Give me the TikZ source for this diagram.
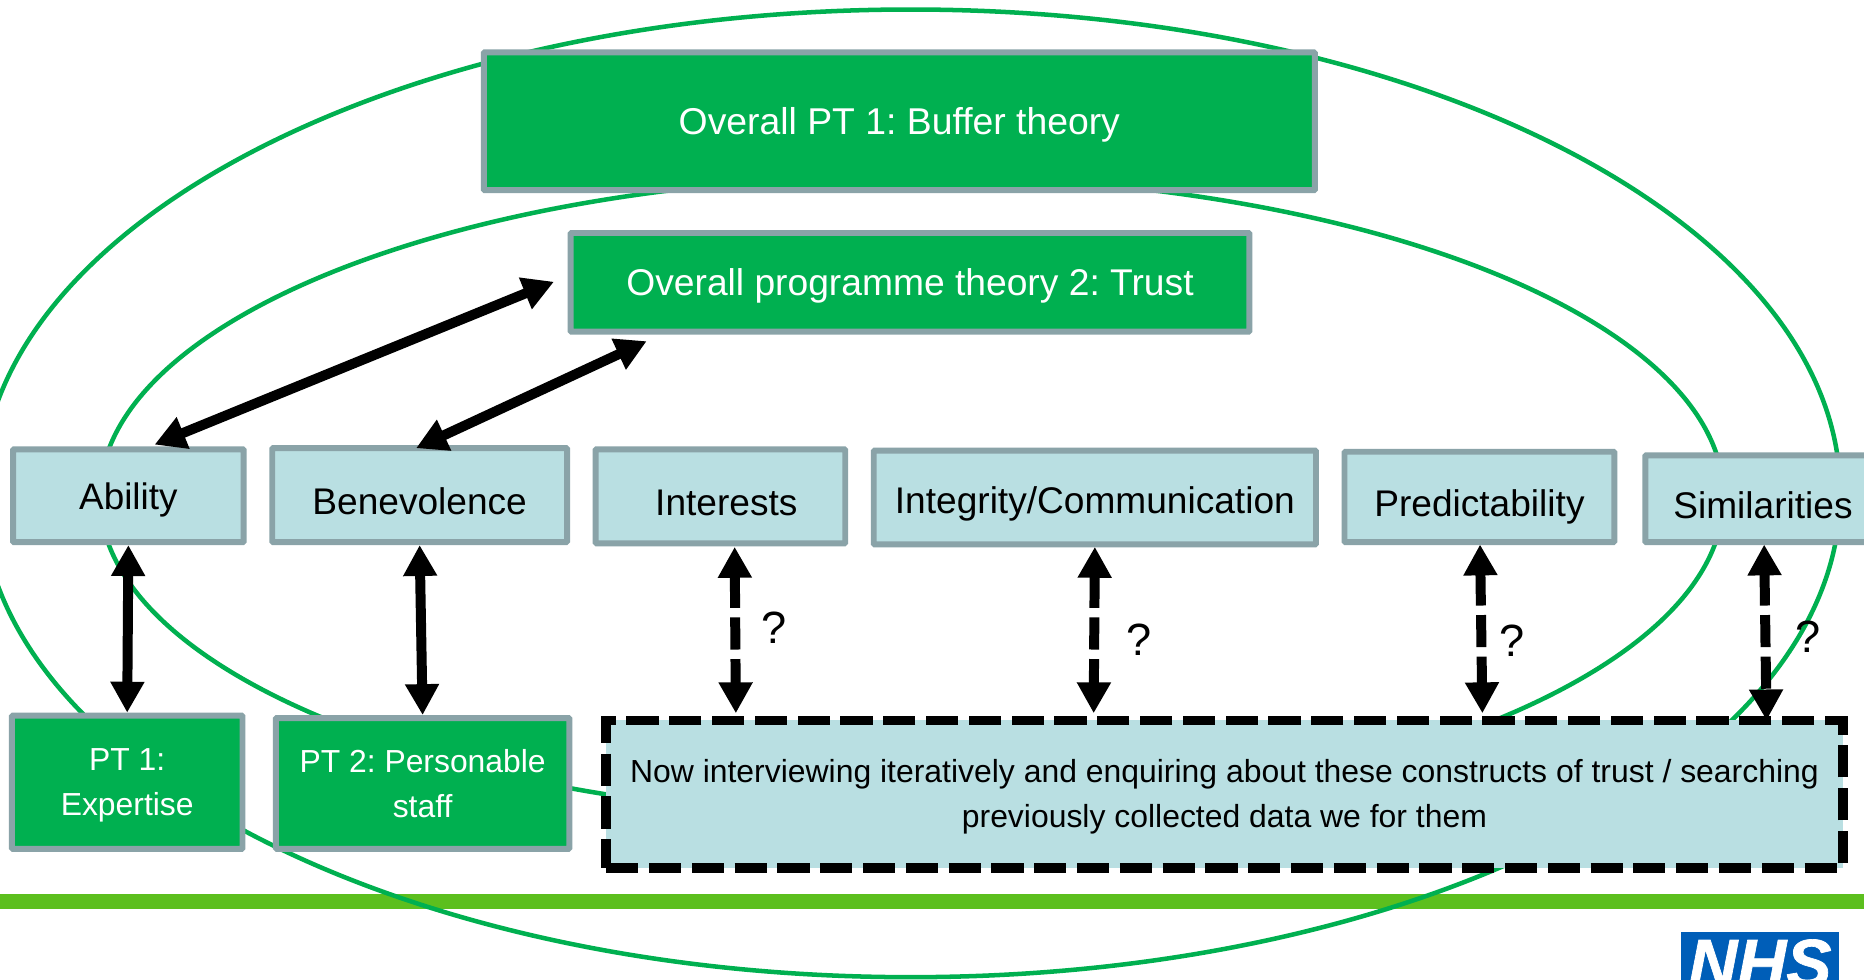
\documentclass[tikz,border=0pt]{standalone}
\usepackage{fontspec}
\setmainfont{Liberation Sans}
\newfontfamily\nhsfont[FakeBold=1]{Liberation Sans Bold Italic}
\usetikzlibrary{arrows.meta}
\newcommand{\fs}[1]{\fontsize{#1}{38}\selectfont\frenchspacing}
\definecolor{ngreen}{HTML}{00B050}
\definecolor{nblue}{HTML}{B9DFE2}
\definecolor{nedge}{HTML}{8AA3A8}
\definecolor{nbar}{HTML}{5CBF1E}
\definecolor{nhsblue}{HTML}{005EB8}
\tikzset{
  x=1pt,y=-1pt,
  boxbase/.style={draw=nedge,line width=5pt,inner sep=0pt,align=center,rounded corners=0.8pt},
  gbox/.style={boxbase,fill=ngreen,text=white,font=\fs{26.8}},
  bbox/.style={boxbase,fill=nblue,text=black,font=\fs{31.2},text depth=0pt},
  dashbox/.style={draw=black,fill=nblue,line width=8.2pt,dash pattern=on 27pt off 9pt,inner sep=0pt,align=center,text=black,font=\fs{26.85}},
  ell/.style={draw=ngreen,line width=3.8pt},
  dbl/.style={{Triangle[length=26pt,width=27pt]}-{Triangle[length=26pt,width=27pt]},line width=8.4pt,black},
  dbld/.style={dbl,dash pattern=on 27pt off 8pt},
  qm/.style={text=black,font=\fs{38},inner sep=0pt},
}
\begin{document}
\begin{tikzpicture}
\useasboundingbox (0,0) rectangle (1568,824.3);
\fill[white] (0,0) rectangle (1568,824.3);
\clip (0,0) rectangle (1568,824.3);
\fill[nbar] (0,752) rectangle (1568,765);
\draw[ell] (766,415) ellipse [x radius=782,y radius=407];
\draw[ell] (767,418) ellipse [x radius=683,y radius=270];
\node[gbox,font=\fs{31.4},text depth=0pt,text height=22.4pt,minimum width=699pt,minimum height=116pt] (top) at (756.5,102) {Overall PT 1: Buffer theory};
\node[gbox,font=\fs{31.3},text depth=0pt,text height=22.4pt,minimum width=571pt,minimum height=83pt] (trust) at (765.5,237.5) {Overall programme theory 2: Trust};
\node[bbox,font=\fs{31},text height=22.4pt,minimum width=194pt,minimum height=78pt] (ability) at (108,417) {Ability};
\node[bbox,text height=33pt,minimum width=248pt,minimum height=79pt] (benev) at (353,416.5) {Benevolence};
\node[bbox,text height=33pt,minimum width=210pt,minimum height=79pt] (inter) at (606,417.5) {\hspace*{10pt}Interests};
\node[bbox,text height=26.6pt,minimum width=372pt,minimum height=79pt] (integ) at (921,418.5) {Integrity/Communication};
\node[bbox,text height=32.6pt,minimum width=227pt,minimum height=76pt] (pred) at (1244.5,418) {Predictability};
\node[bbox,text height=33pt,minimum width=198pt,minimum height=73pt] (simil) at (1483,419.5) {Similarities};
\node[gbox,minimum width=194pt,minimum height=112pt] (pt1) at (107,658) {\rule{0pt}{24pt}PT 1:\\Expertise};
\node[gbox,minimum width=247pt,minimum height=110pt] (pt2) at (355.5,659) {\rule{0pt}{19pt}PT 2: Personable\\staff};
\node[dashbox,minimum width=1040pt,minimum height=124pt] (now) at (1030,668) {\rule{0pt}{24pt}Now interviewing iteratively and enquiring about these constructs of trust / searching\\previously collected data we for them};
\node[fill=nhsblue,text=white,inner xsep=0pt,inner ysep=6pt,minimum width=133pt,anchor=north,font=\fontsize{57}{57}\selectfont\nhsfont] (nhs) at (1480.5,784) {NHS};
\coordinate (a1) at (130,374);
\coordinate (a2) at (466,237);
\coordinate (b1) at (350,377);
\coordinate (b2) at (544,287);
\draw[dbl] (a1) -- (a2);
\draw[dbl] (b1) -- (b2);
\draw[dbl] (ability.south) -- (pt1.north);
\draw[dbl] (benev.south) -- (pt2.north);
\coordinate (d1) at (618,460);
\coordinate (d2) at (619,600);
\coordinate (e1) at (921,460);
\coordinate (e2) at (920,600);
\coordinate (f1) at (1245,458);
\coordinate (f2) at (1247,600);
\coordinate (g1) at (1484,458);
\coordinate (g2) at (1486,606);
\draw[dbld] (d1) -- (d2);
\draw[dbld] (e1) -- (e2);
\draw[dbld] (f1) -- (f2);
\draw[dbld] (g1) -- (g2);
\node[qm] (q1) at (651,528) {?};
\node[qm] (q2) at (958,538) {?};
\node[qm] (q3) at (1272,539) {?};
\node[qm] (q4) at (1521,536) {?};
\end{tikzpicture}
\end{document}
